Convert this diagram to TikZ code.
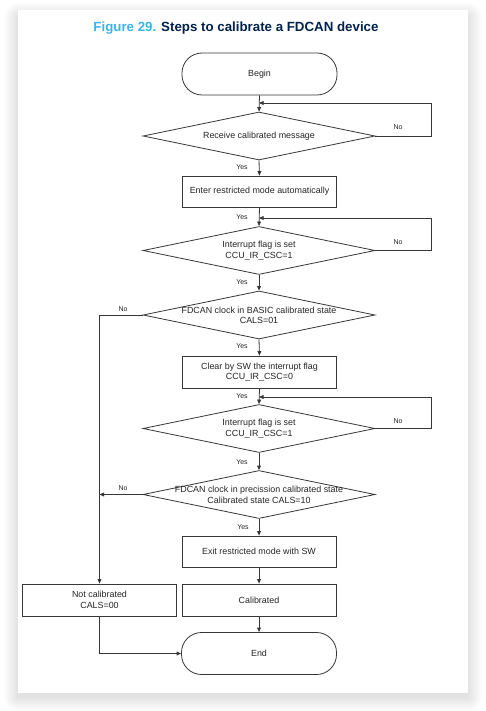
\documentclass[tikz,border=0pt]{standalone}
\usepackage{fontspec}
\setmainfont{Liberation Sans}
\usetikzlibrary{shapes.geometric,arrows.meta}
\definecolor{stblue}{RGB}{60,180,230}
\definecolor{stnavy}{RGB}{3,35,75}
\definecolor{ln}{RGB}{55,55,55}
\begin{document}
\begin{tikzpicture}[x=1pt,y=-1pt,
  every node/.style={font=\fontsize{8.9}{10.5}\selectfont, text=black!85},
  box/.style={draw=ln, line width=0.8pt, rectangle, minimum width=154pt, minimum height=31pt, inner sep=0pt, align=center},
  term/.style={draw=ln, line width=0.8pt, rectangle, rounded corners=20pt, minimum width=155pt, minimum height=42pt, inner sep=0pt},
  dia/.style={draw=ln, line width=0.8pt, diamond, minimum width=232pt, minimum height=48pt, inner sep=0pt},
  dtext/.style={align=center, inner sep=0pt},
  lbl/.style={font=\fontsize{7}{8}\selectfont, inner sep=0pt},
  conn/.style={draw=ln, line width=0.8pt, -{Triangle[length=4.5pt,width=3.8pt]}},
]
\useasboundingbox (0,0) rectangle (486,711);
\fill[white] (0,0) rectangle (486,711);
\foreach \i in {1,...,14} {
  \fill[black, opacity=0.009, rounded corners=\i pt] (18-\i,10-\i+7) rectangle (468+\i,693+\i+4);
}
\fill[white] (18,10) rectangle (468,693);

\node[anchor=base, font=\bfseries\fontsize{13.3}{15}\selectfont] (title) at (236,31.5)
  {\textcolor{stblue}{Figure 29.} \textcolor{stnavy}{Steps to calibrate a FDCAN device}};

% nodes
\node[term] (begin) at (259.5,74) {Begin};
\node[dia] (d1) at (259,136) {};
\node[dtext] (t1) at (d1) {Receive calibrated message};
\node[box] (enter) at (259.5,191.5) {Enter restricted mode automatically};
\node[dia] (d2) at (259,250.5) {};
\node[dtext] (t2) at (d2) {Interrupt flag is set\\CCU\_IR\_CSC=1};
\node[dia] (d3) at (259,315) {};
\node[dtext] (t3) at (259,315.5) {FDCAN clock in BASIC calibrated state\\CALS=01};
\node[box, minimum height=32pt] (clear) at (259.5,372) {Clear by SW the interrupt flag\\CCU\_IR\_CSC=0};
\node[dia] (d4) at (259,428.5) {};
\node[dtext] (t4) at (d4) {Interrupt flag is set\\CCU\_IR\_CSC=1};
\node[dia] (d5) at (259,494.5) {};
\node[dtext] (t5) at (259,495) {FDCAN clock in precission calibrated state\\Calibrated state CALS=10};
\node[box] (exit) at (259,551.5) {Exit restricted mode with SW};
\node[box, minimum height=32pt] (cal) at (259,600) {Calibrated};
\node[box, minimum height=32pt] (notcal) at (99.5,600) {Not calibrated\\CALS=00};
\node[term] (end) at (259,653.5) {End};

% merge points
\coordinate (m1) at (259,103);
\coordinate (m2) at (259,218);
\coordinate (m4) at (259,397);
\coordinate (j5) at (99.5,494.5);

% main flow
\draw[conn] (begin.south) -- (d1.north);
\draw[conn] (d1.south) -- (enter.north);
\draw[conn] (enter.south) -- (d2.north);
\draw[conn] (d2.south) -- (d3.north);
\draw[conn] (d3.south) -- (clear.north);
\draw[conn] (clear.south) -- (d4.north);
\draw[conn] (d4.south) -- (d5.north);
\draw[conn] (d5.south) -- (exit.north);
\draw[conn] (exit.south) -- (cal.north);
\draw[conn] (cal.south) -- (end.north);

% loops
\draw[conn] (d1.east) -- ++(56,0) |- (m1);
\draw[conn] (d2.east) -- ++(56,0) |- (m2);
\draw[conn] (d4.east) -- ++(56,0) |- (m4);

% left branch
\draw[conn] (d3.west) -| (notcal.north);
\draw[conn] (d5.west) -- (j5);
\draw[conn] (notcal.south) |- (end.west);

% labels
\node[lbl] (no1) at (398,127) {No};
\node[lbl] (no2) at (398,242) {No};
\node[lbl] (no4) at (398,421) {No};
\node[lbl] (no3) at (123,309) {No};
\node[lbl] (no5) at (123,488) {No};
\node[lbl] (y1) at (242,167) {Yes};
\node[lbl] (y2) at (242,217) {Yes};
\node[lbl] (y3) at (242,282) {Yes};
\node[lbl] (y4) at (242,346) {Yes};
\node[lbl] (y5) at (242,396) {Yes};
\node[lbl] (y6) at (242,462) {Yes};
\node[lbl] (y7) at (243,527) {Yes};
\end{tikzpicture}
\end{document}
